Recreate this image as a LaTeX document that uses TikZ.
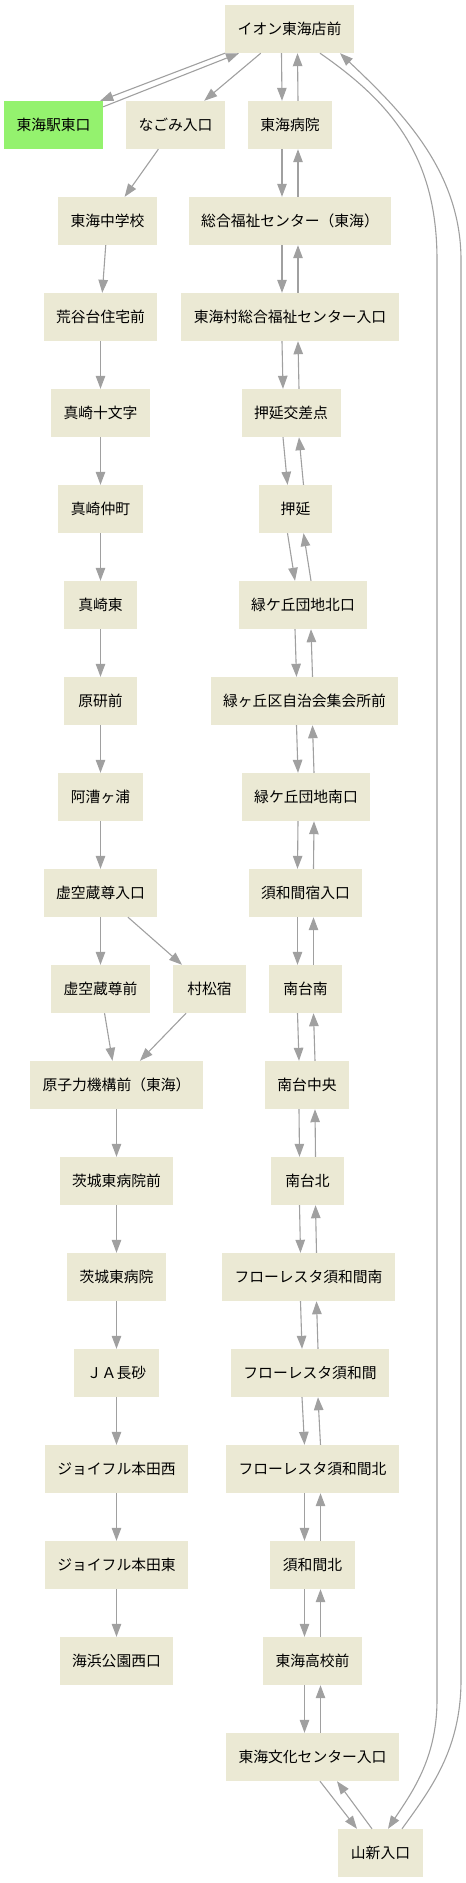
\documentclass[tikz,border=0pt]{standalone}
\usepackage{fontspec}
\setmainfont{Noto Sans CJK JP}
\usetikzlibrary{arrows.meta}
\definecolor{fermata}{HTML}{EBE9D4}
\definecolor{capolinea}{HTML}{94F26E}
\definecolor{linea}{HTML}{A0A0A0}
\begin{document}
\begin{tikzpicture}[x=1pt,y=-1pt,
  stopbox/.style={rectangle,fill=#1,minimum height=48pt,minimum width=73pt,
    inner xsep=12.5pt,font=\fontsize{14.8}{17}\selectfont},
  stopbox/.default=fermata,
  route/.style={draw=linea,line width=1.1pt,-{Triangle[length=13pt,width=9.5pt]}}]
  \useasboundingbox (0,0) rectangle (466,1883);

  % colonna destra (andata e ritorno)
  \node[stopbox] (ion) at (289.5,29) {イオン東海店前};
  \node[stopbox] (byoin) at (290,125) {東海病院};
  \node[stopbox] (fukushi) at (290,221) {総合福祉センター（東海）};
  \node[stopbox] (fukushiiri) at (290,317) {東海村総合福祉センター入口};
  \node[stopbox] (oshikosa) at (291,413) {押延交差点};
  \node[stopbox] (oshinobe) at (295.5,509) {押延};
  \node[stopbox] (midorikita) at (303,605) {緑ケ丘団地北口};
  \node[stopbox] (midorijichi) at (304.5,701) {緑ヶ丘区自治会集会所前};
  \node[stopbox] (midoriminami) at (306,797) {緑ケ丘団地南口};
  \node[stopbox] (suwajuku) at (305.5,893) {須和間宿入口};
  \node[stopbox] (nanminami) at (305.5,989) {南台南};
  \node[stopbox] (nanchuo) at (307,1085) {南台中央};
  \node[stopbox] (nankita) at (307.5,1181) {南台北};
  \node[stopbox] (flominami) at (308.5,1277) {フローレスタ須和間南};
  \node[stopbox] (flo) at (310,1373) {フローレスタ須和間};
  \node[stopbox] (flokita) at (312.5,1469) {フローレスタ須和間北};
  \node[stopbox] (suwakita) at (312.5,1565) {須和間北};
  \node[stopbox] (koko) at (312.5,1661) {東海高校前};
  \node[stopbox] (bunka) at (312.5,1757) {東海文化センター入口};
  \node[stopbox] (yamashin) at (380.5,1853) {山新入口};

  % colonna sinistra (solo andata)
  \node[stopbox=capolinea] (eki) at (53.5,125) {東海駅東口};
  \node[stopbox] (nagomi) at (175.5,125) {なごみ入口};
  \node[stopbox] (chugaku) at (107.5,221) {東海中学校};
  \node[stopbox] (arayadai) at (100.5,317) {荒谷台住宅前};
  \node[stopbox] (jumonji) at (100.5,413) {真崎十文字};
  \node[stopbox] (nakamachi) at (100.5,509) {真崎仲町};
  \node[stopbox] (masakihig) at (100.5,605) {真崎東};
  \node[stopbox] (genken) at (100.5,701) {原研前};
  \node[stopbox] (akogi) at (100.5,797) {阿漕ヶ浦};
  \node[stopbox] (kokuzoiri) at (100.5,893) {虚空蔵尊入口};
  \node[stopbox] (kokuzomae) at (100.5,989) {虚空蔵尊前};
  \node[stopbox] (muramatsu) at (209.5,989) {村松宿};
  \node[stopbox] (genshi) at (116.5,1085) {原子力機構前（東海）};
  \node[stopbox] (ibamae) at (116.5,1181) {茨城東病院前};
  \node[stopbox] (iba) at (116.5,1277) {茨城東病院};
  \node[stopbox] (ja) at (116.5,1373) {ＪＡ長砂};
  \node[stopbox] (joynishi) at (116.5,1469) {ジョイフル本田西};
  \node[stopbox] (joyhig) at (116.5,1565) {ジョイフル本田東};
  \node[stopbox] (kaihin) at (116.5,1661) {海浜公園西口};

  % coppie di frecce giu/su
  \foreach \a/\b in {ion/byoin,byoin/fukushi,fukushi/fukushiiri,fukushiiri/oshikosa,
    oshikosa/oshinobe,oshinobe/midorikita,midorikita/midorijichi,midorijichi/midoriminami,
    midoriminami/suwajuku,suwajuku/nanminami,nanminami/nanchuo,nanchuo/nankita,
    nankita/flominami,flominami/flo,flo/flokita,flokita/suwakita,suwakita/koko,koko/bunka} {
    \draw[route] ([xshift=-8pt]\a.south) -- ([xshift=-8pt]\b.north);
    \draw[route] ([xshift=8pt]\b.north) -- ([xshift=8pt]\a.south);
  }
  \draw[route] ([xshift=7.5pt]bunka.south) -- ([xshift=-23.5pt]yamashin.north);
  \draw[route] ([xshift=-8.5pt]yamashin.north) -- ([xshift=24.5pt]bunka.south);

  % frecce singole
  \foreach \a/\b in {ion/nagomi,nagomi/chugaku,chugaku/arayadai,arayadai/jumonji,
    jumonji/nakamachi,nakamachi/masakihig,masakihig/genken,genken/akogi,akogi/kokuzoiri,
    kokuzoiri/kokuzomae,kokuzoiri/muramatsu,kokuzomae/genshi,muramatsu/genshi,
    genshi/ibamae,ibamae/iba,iba/ja,ja/joynishi,joynishi/joyhig,joyhig/kaihin}
    \draw[route] (\a) -- (\b);

  % capolinea
  \draw[route] (ion.south west) -- ([xshift=-3pt]eki.north east);
  \draw[route] ([yshift=-6pt]eki.north east) -- ([xshift=14pt]ion.south west);

  % giro lungo a destra
  \draw[route] ([xshift=30.5pt]ion.south) .. controls (395,105) and (437,160) .. (437,260)
    -- (437,1700) .. controls (437,1760) and (410,1795) .. ([xshift=7.5pt]yamashin.north);
  \draw[route] ([xshift=21.5pt]yamashin.north) .. controls (430,1790) and (461,1750) .. (461,1680)
    -- (461,260) .. controls (461,170) and (400,110) .. ([xshift=50.5pt]ion.south);
\end{tikzpicture}
\end{document}
